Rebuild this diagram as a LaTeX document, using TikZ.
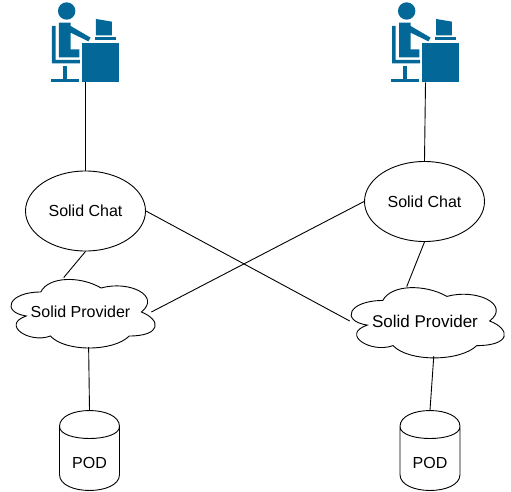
\documentclass[tikz,border=0pt]{standalone}
\usepackage{fontspec}
\setmainfont{Liberation Sans}
\usetikzlibrary{calc,shapes.geometric}
\definecolor{iconblue}{HTML}{036897}

\newcommand{\usericon}[2]{
  \begin{scope}[shift={(#1,#2)},x=0.3333pt,y=-0.3333pt,iconblue]
    \fill (80,33) circle [radius=8.7pt];
    \fill (57,68) -- (92,68) -- (92,78) -- (152,113) -- (145,124) -- (92,98) -- (92,148) -- (118,148)
      -- (118,172) -- (57,172) -- cycle;
    \fill (36,78) -- (47,78) -- (47,180) -- (120,180) -- (120,190) -- (36,190) -- cycle;
    \fill (70,198) rectangle (80,238);
    \fill (34,238) rectangle (118,246);
    \fill (168,57) -- (216,65) -- (216,106) -- (168,106) -- cycle;
    \fill (165,111) rectangle (228,119);
    \fill (126,128) rectangle (236,247);
  \end{scope}
}
\newcommand{\cloudoutline}[4]{
  \draw [shift={(#1,#2)},x=#3pt,y=-#4pt]
    (.25,.25) .. controls (.05,.25) and (0,.5) .. (.16,.55)
    .. controls (0,.66) and (.18,.9) .. (.31,.8)
    .. controls (.4,1) and (.7,1) .. (.8,.8)
    .. controls (1,.8) and (1,.6) .. (.875,.5)
    .. controls (1,.3) and (.8,.1) .. (.625,.2)
    .. controls (.5,.05) and (.3,.05) .. (.25,.25) -- cycle;
}
\newcommand{\podoutline}[1]{
  \draw [shift={(#1.center)}]
    (-30,-24) .. controls (-30,-45.3) and (30,-45.3) .. (30,-24)
    -- (30,24) .. controls (30,45.3) and (-30,45.3) .. (-30,24) -- cycle
    (-30,-24) .. controls (-30,-8) and (30,-8) .. (30,-24);
}
\tikzset{
  chat/.style={draw,ellipse,inner sep=0pt,minimum width=120pt,minimum height=80pt,font=\fontsize{16}{18}\selectfont},
  provider/.style={ellipse,inner sep=0pt,minimum height=70pt},
  pod/.style={rectangle,inner sep=0pt,minimum width=60pt,minimum height=80pt,font=\fontsize{16}{18}\selectfont},
  usernode/.style={rectangle,inner sep=0pt,minimum width=67pt,minimum height=80pt}
}

\begin{document}
\begin{tikzpicture}[x=1pt,y=-1pt,line width=0.9pt]
    \useasboundingbox (0,0) rectangle (511,492);
    \usericon{40}{0}
    \usericon{380}{0}
    \cloudoutline{0.5}{272}{161}{80}
    \cloudoutline{340}{280}{171}{82}
    \node [usernode] (user1) at (85.5,42) {};
    \node [usernode] (user2) at (425.5,42) {};
    \node [chat] (chat1) at (85.5,211) {Solid Chat};
    \node [chat] (chat2) at (424.5,201.5) {Solid Chat};
    \node [provider,minimum width=124pt,font=\fontsize{16}{18}\selectfont] (prov1) at (80.5,312) {Solid Provider};
    \node [provider,minimum width=116pt,font=\fontsize{17}{18}\selectfont] (prov2) at (425,321) {Solid Provider};
    \node [pod] (pod1) at (89.5,450.5) {\raisebox{-18pt}[0pt][0pt]{POD}};
    \node [pod] (pod2) at (430,450.5) {\raisebox{-18pt}[0pt][0pt]{POD}};
    \podoutline{pod1}
    \podoutline{pod2}
    \path
    (user1.south) edge (chat1.north)
    (user2.south) edge (chat2.north)
    (chat1.south) edge (prov1.116)
    (chat2.south) edge (prov2.118)
    (chat1.east) edge (prov2.west)
    (chat2.west) edge (prov1.east)
    (prov1.283) edge (pod1.north)
    (prov2.284) edge (pod2.north)
    ;
\end{tikzpicture}
\end{document}
